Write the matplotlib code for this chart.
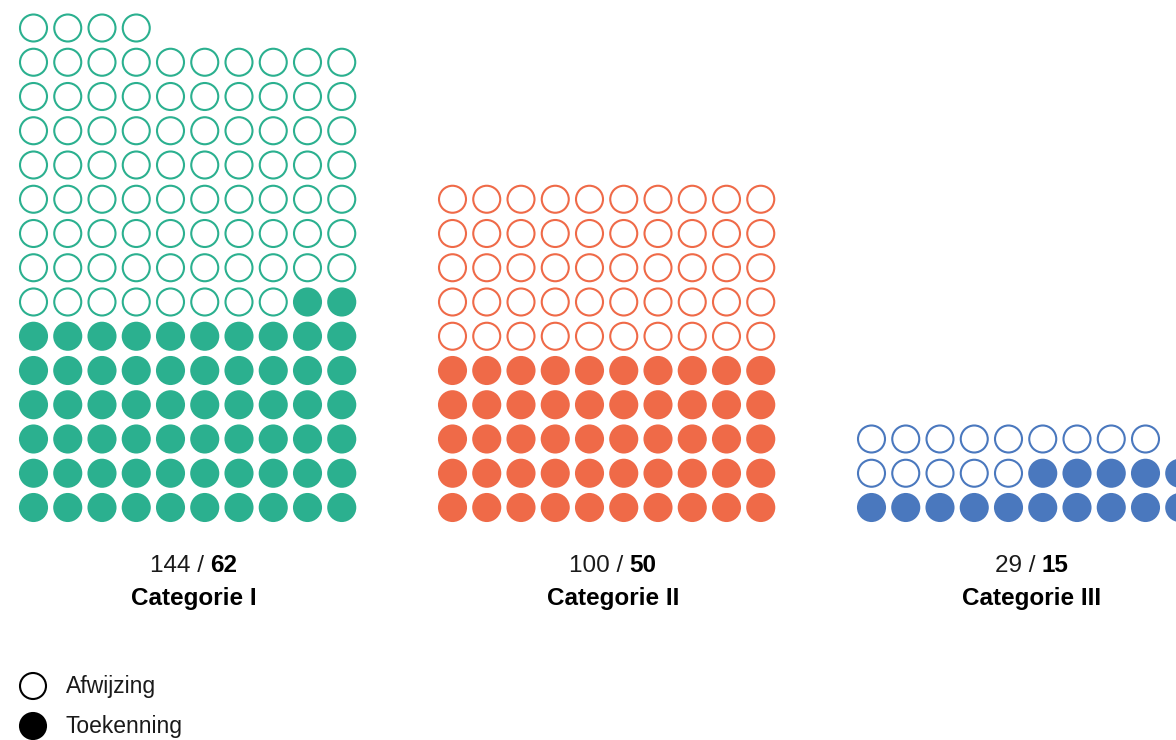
import matplotlib.pyplot as plt
from matplotlib.patches import Circle

# data
categories = ['Categorie I', 'Categorie II', 'Categorie III']
totals = [144, 100, 29]        # total applications
granted = [62, 50, 15]         # toekenning
colors = ['#2bb08f', '#ef6a48', '#4a78be']

plt.rcParams['font.family'] = ['Liberation Sans', 'DejaVu Sans']

W, H = 1176, 740
fig = plt.figure(figsize=(W / 100, H / 100), dpi=100)
ax = fig.add_axes([0, 0, 1, 1])
ax.set_xlim(0, W)
ax.set_ylim(H, 0)
ax.set_aspect('equal')
ax.axis('off')

# grid layout (pixels)
ncols = 10
step = 34.25
r = 13.5
x0 = 33.5
group_gap = 419
y_bottom = 507.5

for g, (cat, n, k, c) in enumerate(zip(categories, totals, granted, colors)):
    gx = x0 + g * group_gap
    rem = n % ncols
    nrows = n // ncols + (1 if rem else 0)
    # items: first the open ones, then the filled ones; top row holds the remainder
    for i in range(n):
        if rem:
            if i < rem:
                row, col = 0, i
            else:
                row, col = 1 + (i - rem) // ncols, (i - rem) % ncols
        else:
            row, col = i // ncols, i % ncols
        cx = gx + col * step
        cy = y_bottom - (nrows - 1 - row) * step
        filled = i >= n - k
        ax.add_patch(Circle((cx, cy), r, facecolor=c if filled else 'white',
                            edgecolor=c, linewidth=1.5))

    # label: "144 / 62" with bold second part
    lx = gx + 160.5
    fig.canvas.draw()
    rend = fig.canvas.get_renderer()
    t1 = ax.text(0, 566, f'{n} /', fontsize=17.5, color='#1a1a1a', va='center', ha='left')
    t2 = ax.text(0, 566, f'{k}', fontsize=17.5, fontweight='bold', color='black',
                 va='center', ha='left')
    w1 = t1.get_window_extent(rend).width
    w2 = t2.get_window_extent(rend).width
    space = 6
    total_w = w1 + space + w2
    t1.set_x(lx - total_w / 2)
    t2.set_x(lx - total_w / 2 + w1 + space)
    ax.text(lx, 599, cat, fontsize=17.5, fontweight='bold', color='black',
            ha='center', va='center')

# legend
ax.add_patch(Circle((33, 686), 13, facecolor='white', edgecolor='black', linewidth=1.5))
ax.add_patch(Circle((33, 726), 13, facecolor='black', edgecolor='black', linewidth=1.5))
ax.text(66, 687, 'Afwijzing', fontsize=16.5, color='#1a1a1a', va='center', ha='left')
ax.text(66, 727, 'Toekenning', fontsize=16.5, color='#1a1a1a', va='center', ha='left')

fig.savefig('out.png', dpi=100)
